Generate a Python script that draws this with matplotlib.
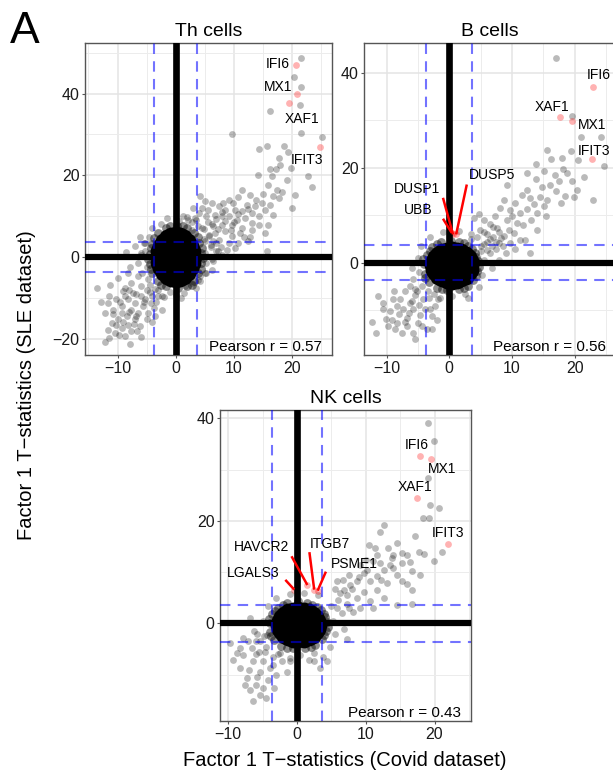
import matplotlib
matplotlib.use("Agg")
import matplotlib.pyplot as plt
from matplotlib.ticker import MultipleLocator

plt.rcParams["font.family"] = ["Liberation Sans", "DejaVu Sans"]

# ---- Th cells: (covid t, sle t) for genes outside the dense core ----
th_points = [
    (21.6, 48.8), (20.3, 44.0), (21.6, 41.6), (21.4, 37.3), (16.3, 35.7), (21.6, 30.4),
    (9.7, 30.2), (25.1, 29.3), (15.7, 27.3), (18.6, 27.3), (14.3, 26.4), (19.4, 25.7),
    (17.7, 24.2), (16.3, 21.6), (17.3, 21.6), (14.1, 20.0), (16.6, 19.9), (19.2, 18.9),
    (22.8, 19.9), (15.9, 17.7), (17.5, 16.5), (20.6, 15.3), (16.8, 14.9), (17.7, 14.4),
    (11.4, 16.5), (12.8, 15.3), (10.8, 14.7), (9.1, 14.0), (8.2, 13.2), (9.9, 13.2),
    (12.2, 12.8), (13.7, 12.4), (14.8, 13.2), (16.3, 12.8), (16.8, 10.4), (14.3, 10.0),
    (15.4, 11.6), (13.1, 10.8), (11.4, 11.2), (10.2, 11.6), (8.5, 11.6), (7.4, 12.4),
    (6.8, 10.4), (7.9, 10.0), (9.1, 10.0), (10.5, 9.1), (12.0, 9.6), (13.1, 8.3),
    (14.3, 7.9), (15.9, 7.9), (15.4, 5.9), (13.1, 6.7), (11.4, 7.1), (9.7, 7.9),
    (4.2, 14.9), (5.1, 13.6), (6.2, 13.2), (4.5, 12.0), (5.6, 11.6), (7.9, 7.9),
    (8.5, 6.3), (9.7, 5.1), (10.8, 3.4), (9.1, 3.4), (7.4, 4.2), (6.8, 5.9),
    (15.7, 1.4), (3.3, 9.6), (2.2, 9.1), (1.3, 10.0), (5.5, 8.5), (6.5, 7.5),
    (4.8, 6.8), (5.8, 5.2), (7.2, 6.8), (6.0, 3.0), (7.8, 2.5), (5.0, 3.8),
    (8.5, 8.8), (6.9, 9.2), (4.0, 10.8), (3.0, 11.9), (11.8, 5.0), (12.5, 3.8),
    (10.0, 8.5), (8.0, 0.5), (6.5, -1.0), (7.2, 1.5),
    (7.0, 3.5), (8.8, 1.8), (10.2, 2.2), (11.0, 5.8), (12.8, 5.0), (9.5, 6.5),
    (6.2, 8.0), (8.0, 11.0), (10.8, 10.5), (12.5, 11.8), (13.8, 14.0), (15.0, 15.5),
    (18.3, 16.0), (18.0, 22.5), (19.8, 21.8), (23.5, 17.2), (20.0, 12.0), (3.8, 7.5),
    (5.2, 10.0), (2.8, 6.5),
    (-13.6, -7.6), (-11.3, -6.8), (-9.9, -5.1), (-9.0, -8.4), (-10.2, -10.4), (-11.6, -11.3),
    (-10.7, -12.9), (-9.3, -12.1), (-8.2, -10.4), (-7.6, -12.9), (-8.4, -14.5), (-9.9, -15.3),
    (-11.0, -16.2), (-11.6, -17.8), (-10.5, -18.6), (-11.4, -19.8), (-9.3, -17.4), (-8.2, -16.6),
    (-7.0, -15.3), (-6.4, -13.7), (-7.0, -11.3), (-5.9, -9.6), (-5.6, -12.1), (-4.7, -13.7),
    (-5.0, -15.3), (-6.2, -17.0), (-7.6, -18.2), (-8.7, -19.4), (-4.3, -11.3), (-4.1, -9.6),
    (-3.3, -10.9), (-5.0, -8.0), (-7.6, -6.4), (-6.4, -4.7), (-8.2, -3.9), (-3.6, -14.5),
    (-2.4, -12.9), (-2.4, -9.6), (-9.3, -13.7), (-6.7, -18.2), (-12.2, -20.7), (-7.9, -21.4),
    (-10.2, -16.6), (-7.4, -8.8), (-8.7, -9.6), (-12.2, -13.7), (1.6, -7.2), (2.8, -6.4),
    (3.9, -5.6), (5.1, -3.9), (6.2, -3.1), (4.2, -4.7), (-7.0, 2.6), (-5.9, 1.0),
    (-5.3, 3.4), (-6.5, -1.5), (-7.8, -2.5), (-6.2, 4.8), (-8.5, 1.2),
    (-9.5, -11.0), (-8.0, -13.5), (-6.8, -14.5), (-5.5, -11.0), (-4.5, -8.5), (-6.0, -7.0),
    (-8.8, -7.5), (-10.8, -14.0), (-9.0, -16.0), (-7.2, -16.5), (-3.8, -12.5), (-5.2, -10.2),
    (-6.8, -9.0), (-3.0, -8.2), (-11.5, -9.5), (-12.8, -11.0), (-9.8, -19.0), (-4.0, -16.0),
    (-6.0, -19.5), (-8.0, -8.0),
    (-5.2, 1.5), (-5.0, -2.5), (-4.6, 4.8), (-4.8, -5.5), (5.0, 1.0), (5.3, -1.5),
    (4.8, 4.5), (5.2, -4.0), (4.5, 7.0), (2.8, 8.5), (0.5, 8.8), (-2.5, 8.0),
    (-4.0, 7.0), (-1.0, -8.5), (1.5, -8.8), (3.5, -7.5), (-3.5, -7.8), (6.0, 2.5),
    (6.2, -0.5), (-6.0, 0.5), (-5.8, -4.0), (5.8, 5.5), (-5.5, 3.5), (2.0, 9.8),
    (-3.0, -9.5), (6.5, 3.8), (7.0, 1.5), (3.5, 9.0), (1.0, -10.0), (-1.5, 9.5),
    (4.2, -6.0), (-4.5, -6.8), (0.0, -9.2), (-2.0, -9.8),
]
# genes packed into the solid black centre
th_core = [
    (0.0, 0.0), (1.5, 0.2), (-1.5, -0.2), (0.1, 2.9), (0.0, -2.9), (1.4, 2.6), (-1.4, 2.5),
    (1.5, -2.6), (-1.5, -2.5),
    (3.1, 0.0), (3.0, 1.4), (2.7, 2.8), (2.2, 4.0), (1.5, 4.8), (0.8, 5.4), (0.0, 5.6),
    (-0.8, 5.4), (-1.5, 4.8), (-2.2, 4.0), (-2.7, 2.8), (-3.0, 1.4), (-3.1, 0.0),
    (-3.0, -1.4), (-2.7, -2.8), (-2.2, -4.0), (-1.5, -4.8), (-0.8, -5.4), (0.0, -5.6),
    (0.8, -5.4), (1.5, -4.8), (2.2, -4.0), (2.7, -2.8), (3.0, -1.4),
]
th_fringe = [
    (4.4, 1.0), (4.3, -1.5), (4.1, 3.5), (3.9, -4.0), (3.2, 5.8), (2.0, 7.0), (0.3, 7.6),
    (-1.6, 7.1), (-3.1, 5.8), (-4.1, 3.3), (-4.5, 0.8), (-4.4, -1.6), (-4.0, -4.0),
    (-3.0, -6.0), (-1.6, -7.2), (0.4, -7.7), (2.0, -7.2), (3.2, -5.8), (4.7, -0.2),
    (-4.8, -0.5), (4.6, 2.2), (-4.3, 2.3), (2.8, -6.8), (-2.5, -6.9), (1.2, 7.6),
    (-0.9, 7.7), (3.8, 4.8), (-3.7, 4.7), (4.3, -2.9), (-4.3, -3.0),
]
th_genes = ["IFI6", "MX1", "XAF1", "IFIT3"]
th_gene_xy = [(20.7, 47.0), (20.9, 39.8), (19.5, 37.6), (24.9, 26.9)]
th_r = 0.57

# ---- B cells ----
b_points = [
    (17.0, 43.2), (19.6, 31.0), (15.6, 23.7), (19.4, 23.5), (24.2, 26.5), (21.0, 26.5),
    (16.3, 21.8), (20.6, 21.6), (13.9, 20.9), (18.2, 19.8), (24.7, 20.4), (15.1, 19.3),
    (12.4, 18.9), (13.8, 17.7), (18.8, 18.9), (19.6, 17.2), (17.5, 17.2), (16.1, 16.5),
    (12.4, 15.4), (9.2, 16.5), (11.6, 14.2), (12.9, 13.7), (14.5, 13.9), (15.6, 13.3),
    (18.5, 14.0), (19.9, 13.9), (23.0, 13.2), (17.8, 12.6), (10.5, 12.6), (9.7, 11.2),
    (8.1, 11.6), (8.7, 13.3), (12.4, 11.4), (11.3, 10.5), (14.0, 10.5), (15.1, 11.9),
    (7.3, 9.8), (9.2, 9.1), (10.8, 8.4), (12.1, 4.9), (7.6, 7.4), (6.5, 8.1),
    (5.5, 9.1), (4.7, 10.2), (3.9, 9.5), (4.9, 7.0), (6.0, 6.0), (8.7, 5.6),
    (9.7, 4.2), (10.3, 6.3), (11.3, 4.9), (7.9, 4.2), (12.9, 2.1), (14.0, 7.0),
    (15.5, 9.8), (20.4, 15.4), (17.0, 15.1), (5.5, 4.0), (6.5, 5.0), (7.5, 4.5),
    (6.0, 2.8), (8.5, 3.5), (9.0, 2.0), (7.0, 7.5), (8.0, 6.5),
    (4.5, 5.5), (6.8, 3.5), (8.2, 5.2), (9.5, 7.0), (10.0, 9.8), (11.8, 8.0),
    (13.0, 9.0), (13.5, 12.5), (14.8, 16.0), (16.8, 18.5), (18.0, 22.0), (21.5, 18.0),
    (10.5, 3.0), (5.0, 2.5), (3.5, 5.0),
    (-11.7, -14.7), (-11.4, -7.0), (-10.1, -11.9), (-9.5, -10.2), (-8.4, -9.1), (-7.9, -7.7),
    (-9.0, -7.7), (-7.4, -9.8), (-6.8, -11.6), (-8.4, -12.6), (-8.7, -14.0), (-6.8, -13.3),
    (-5.8, -14.7), (-5.5, -16.1), (-5.0, -12.6), (-4.7, -10.9), (-5.8, -9.8), (-6.3, -8.4),
    (-5.5, -6.7), (-4.2, -7.7), (-3.9, -9.8), (-2.8, -11.2), (-2.8, -14.0), (-3.6, -14.0),
    (-7.1, -6.0), (-10.6, -9.8), (-9.7, -13.3), (-3.4, -6.0), (-2.3, -9.1), (-1.8, -7.7),
    (-6.3, -4.9),
    (-10.5, -8.5), (-8.0, -10.8), (-7.0, -12.5), (-6.0, -8.0), (-4.8, -8.8), (-3.3, -7.5),
    (-9.2, -12.0), (-7.6, -14.8), (-4.3, -13.2), (-3.0, -9.8), (-5.2, -6.0), (-8.8, -6.0),
    (-2.0, -12.0), (-6.5, -10.5), (-12.3, -12.5),
    (-5.0, 1.0), (-4.8, -2.0), (-4.5, 3.5), (-4.3, -4.8), (5.5, 0.5), (5.3, -2.5),
    (5.0, 3.5), (4.8, -5.0), (3.5, 6.0), (1.5, 6.8), (-1.0, 6.5), (-3.0, 5.5),
    (-2.5, -6.5), (0.5, -7.0), (2.5, -6.5), (6.5, 2.0), (6.8, -1.0), (-6.0, -1.0),
    (-5.8, -3.5), (6.0, 4.5), (7.5, 3.0), (-5.5, -5.5), (3.0, -7.5), (-1.5, -7.5),
    (8.0, 0.5), (7.0, 5.5), (5.5, 6.5),
]
b_core = [
    (0.4, -0.5), (1.9, -0.5), (-1.1, -0.5), (0.4, 1.2), (0.4, -2.2), (1.6, 1.0), (-0.8, 1.0),
    (1.6, -2.0), (-0.8, -2.0),
    (3.5, -0.5), (3.4, 0.4), (3.1, 1.2), (2.6, 1.95), (1.95, 2.5), (1.2, 2.8), (0.4, 2.95),
    (-0.4, 2.8), (-1.15, 2.5), (-1.8, 1.95), (-2.3, 1.2), (-2.6, 0.4), (-2.7, -0.5),
    (-2.6, -1.4), (-2.3, -2.2), (-1.8, -2.95), (-1.15, -3.5), (-0.4, -3.8), (0.4, -3.95),
    (1.2, -3.8), (1.95, -3.5), (2.6, -2.95), (3.1, -2.2), (3.4, -1.4),
]
b_fringe = [
    (4.6, 0.3), (4.5, -1.8), (4.1, 2.1), (3.8, -3.6), (3.0, 3.6), (1.6, 4.4), (0.3, 4.7),
    (-1.3, 4.3), (-2.7, 3.3), (-3.6, 1.7), (-4.0, -0.3), (-3.9, -2.3), (-3.3, -4.0),
    (-2.0, -5.2), (-0.3, -5.8), (1.5, -5.6), (3.0, -4.8), (4.8, -0.8), (-4.2, 0.8),
    (4.3, 1.3), (2.4, -5.3), (-1.2, -5.6), (2.3, 4.2), (-2.0, 3.9), (3.6, 2.9),
    (-3.0, 2.6), (4.2, -2.8), (-3.8, -3.2),
]
b_genes = ["IFI6", "XAF1", "MX1", "IFIT3", "DUSP1", "UBB", "DUSP5"]
b_gene_xy = [(22.9, 37.1), (17.6, 30.7), (19.6, 29.8), (22.8, 21.8),
             (0.6, 6.0), (0.4, 6.3), (1.1, 6.0)]
b_r = 0.56

# ---- NK cells ----
nk_points = [
    (19.1, 39.0), (19.9, 35.5), (19.1, 28.3), (19.4, 23.1), (20.6, 22.5), (18.3, 20.6),
    (19.2, 20.6), (12.6, 19.2), (12.1, 17.9), (21.1, 13.9), (14.5, 15.6), (13.3, 14.7),
    (15.3, 13.7), (16.0, 13.4), (14.0, 13.4), (11.6, 13.4), (10.4, 15.3), (11.4, 14.7),
    (17.7, 14.0), (16.5, 11.9), (19.9, 12.1), (16.7, 10.3), (14.5, 9.5), (15.2, 8.2),
    (16.0, 7.7), (16.7, 6.6), (13.5, 11.4), (12.6, 10.5), (11.1, 12.1), (10.1, 12.4),
    (9.2, 11.4), (9.7, 9.8), (11.6, 9.2), (13.1, 7.9), (10.6, 8.2), (8.7, 8.2),
    (7.5, 9.5), (7.7, 7.5), (6.7, 8.5), (5.8, 8.2), (9.7, 6.2), (11.6, 6.6),
    (12.6, 4.9), (14.5, 3.6), (10.6, 4.3), (8.7, 4.9), (7.2, 5.6), (6.3, 5.9),
    (9.2, 3.0), (8.2, 2.3), (16.7, 3.8), (15.2, 11.8), (17.9, 9.5),
    (5.5, 6.8), (6.8, 6.5), (8.0, 6.8), (9.0, 9.0), (10.2, 10.5), (12.0, 11.8),
    (13.8, 12.8), (12.2, 8.5), (14.0, 10.8), (11.0, 3.0), (7.2, 3.8), (5.8, 3.0),
    (18.5, 13.5), (17.2, 17.0),
    (-6.4, -15.2), (-5.4, -13.9), (-5.9, -11.9), (-4.9, -12.6), (-6.8, -12.9), (-7.3, -10.6),
    (-8.3, -8.7), (-9.3, -7.1), (-7.8, -6.1), (-6.4, -7.4), (-5.4, -9.4), (-4.2, -11.0),
    (-4.0, -8.7), (-4.9, -7.4), (-3.0, -10.0), (-2.2, -7.4), (-3.4, -12.6), (-1.5, -9.4),
    (-1.0, -7.4), (2.4, -7.4), (3.3, -8.7), (4.3, -7.4), (-6.6, -4.8), (-5.4, -3.5),
    (-4.4, -2.2), (-7.8, -2.9), (-8.3, -4.8),
    (-7.0, -9.0), (-6.0, -6.0), (-4.6, -5.5), (-3.5, -8.0), (-8.8, -5.8), (-5.8, -10.5),
    (-4.5, -14.5), (-7.5, -12.0), (-2.8, -6.0), (-9.8, -3.8), (-7.2, -3.5), (-5.8, -2.0),
    (-5.0, 0.5), (-4.8, -2.5), (-4.2, 3.5), (-4.5, -4.5), (5.3, 0.5), (5.5, -2.0),
    (5.0, 3.5), (4.8, -4.5), (3.0, 5.5), (1.0, 6.0), (-1.0, 5.8), (-3.0, 5.0),
    (-2.5, -5.8), (0.5, -6.2), (2.5, -5.8), (6.5, 2.0), (6.8, -1.0), (-6.2, -1.5),
    (-6.0, -3.5), (6.0, 4.5), (7.5, 3.0), (-5.5, -5.5), (3.8, -6.5), (-1.0, -6.8),
    (-3.5, -6.5), (7.2, -3.0), (-6.8, 1.0), (1.8, -7.2),
]
nk_core = [
    (0.2, -0.25), (1.6, -0.25), (-1.2, -0.25), (0.2, 1.2), (0.2, -1.7), (1.4, 1.0),
    (-1.0, 1.0), (1.4, -1.5), (-1.0, -1.5),
    (3.15, -0.25), (3.05, 0.53), (2.75, 1.25), (2.3, 1.87), (1.7, 2.35), (0.96, 2.65),
    (0.2, 2.75), (-0.56, 2.65), (-1.3, 2.35), (-1.9, 1.87), (-2.35, 1.25), (-2.65, 0.53),
    (-2.75, -0.25), (-2.65, -1.03), (-2.35, -1.75), (-1.9, -2.37), (-1.3, -2.85),
    (-0.56, -3.15), (0.2, -3.25), (0.96, -3.15), (1.7, -2.85), (2.3, -2.37), (2.75, -1.75),
    (3.05, -1.03),
]
nk_fringe = [
    (4.3, 0.3), (4.2, -1.5), (3.9, 1.9), (3.6, -3.0), (2.9, 3.2), (1.5, 4.0), (0.1, 4.3),
    (-1.4, 4.0), (-2.7, 3.1), (-3.6, 1.8), (-4.0, 0.0), (-3.9, -1.7), (-3.4, -3.2),
    (-2.3, -4.3), (-0.6, -4.8), (1.1, -4.8), (2.6, -4.1), (4.5, -0.6), (-4.1, 0.9),
    (4.1, 1.2), (2.0, -4.6), (-1.5, -4.7), (2.2, 3.7), (-2.1, 3.6), (3.5, 2.6),
    (-3.2, 2.5), (3.9, -2.3), (-3.8, -2.5),
]
nk_genes = ["IFI6", "MX1", "XAF1", "IFIT3", "HAVCR2", "ITGB7", "LGALS3", "PSME1"]
nk_gene_xy = [(17.9, 32.7), (19.5, 32.0), (17.5, 24.5), (22.0, 15.5),
              (1.5, 7.5), (2.5, 6.6), (-0.4, 6.6), (3.0, 6.4)]
nk_r = 0.43

# ---- layout (pixels of a 613x771 canvas) ----
layout = {
    "Th cells": dict(box=(85, 43, 332, 355), xlim=(-15.6, 26.9), ylim=(-24.0, 52.4),
                     thr=3.7,
                     text={"IFI6": (17.5, 47.3), "MX1": (17.7, 41.6),
                           "XAF1": (21.7, 33.8), "IFIT3": (22.6, 23.8)},
                     seg={}),
    "B cells": dict(box=(364, 43, 616, 355), xlim=(-13.6, 26.6), ylim=(-19.4, 46.3),
                    thr=3.7,
                    text={"IFI6": (23.9, 39.6), "XAF1": (16.4, 32.8), "MX1": (22.8, 29.0),
                          "IFIT3": (23.1, 23.6), "DUSP1": (-5.2, 15.6), "UBB": (-5.0, 11.2),
                          "DUSP5": (6.8, 18.5)},
                    seg={"DUSP1": (-1.0, 13.7), "UBB": (-1.0, 9.3), "DUSP5": (2.8, 16.5)}),
    "NK cells": dict(box=(220, 410, 471, 721), xlim=(-11.2, 25.3), ylim=(-19.0, 41.6),
                     thr=3.7,
                     text={"IFI6": (17.4, 34.8), "MX1": (21.1, 30.1), "XAF1": (17.2, 26.5),
                           "IFIT3": (21.9, 17.6), "HAVCR2": (-5.1, 15.0), "ITGB7": (4.8, 15.5),
                           "LGALS3": (-6.4, 9.8), "PSME1": (8.4, 11.6)},
                     seg={"HAVCR2": (-0.8, 13.1), "ITGB7": (1.8, 13.9),
                          "LGALS3": (-1.7, 8.5), "PSME1": (4.2, 10.1)}),
}

W, H = 613, 771
fig = plt.figure(figsize=(W / 100, H / 100), dpi=100)


def draw_panel(title, points, core, fringe, genes, gene_xy, r):
    cfg = layout[title]
    x0, y0, x1, y1 = cfg["box"]
    ax = fig.add_axes([x0 / W, 1 - y1 / H, (x1 - x0) / W, (y1 - y0) / H])
    ax.set_axisbelow(True)

    px, py = zip(*points)
    ax.scatter(px, py, s=24, color="black", alpha=0.27, linewidths=0, zorder=2)
    fx, fy = zip(*fringe)
    ax.scatter(fx, fy, s=40, color="black", alpha=0.45, linewidths=0, zorder=2)
    cx, cy = zip(*core)
    ax.scatter(cx, cy, s=130, color="black", alpha=1.0, linewidths=0, zorder=2)
    gx, gy = zip(*gene_xy)
    ax.scatter(gx, gy, s=24, color="red", alpha=0.3, linewidths=0, zorder=2)

    ax.axvline(0, color="black", lw=4.8, zorder=3)
    ax.axhline(0, color="black", lw=4.5, zorder=3)
    thr = cfg["thr"]
    for v in (-thr, thr):
        ax.axvline(v, color="blue", alpha=0.55, lw=1.5, ls=(0, (5, 3.5)), zorder=4)
        ax.axhline(v, color="blue", alpha=0.55, lw=1.5, ls=(0, (5, 3.5)), zorder=4)

    for name, (gxx, gyy) in zip(genes, gene_xy):
        tx, ty = cfg["text"][name]
        if name in cfg["seg"]:
            sx, sy = cfg["seg"][name]
            ax.plot([sx, gxx], [sy, gyy], color="red", lw=1.8, zorder=5,
                    solid_capstyle="butt")
        ax.text(tx, ty, name, fontsize=10, ha="center", va="center", zorder=6)

    ax.text(0.96, 0.014, f"Pearson r = {r:.2f}", transform=ax.transAxes,
            ha="right", va="baseline", fontsize=11, zorder=6)

    ax.set_xlim(*cfg["xlim"])
    ax.set_ylim(*cfg["ylim"])
    ax.xaxis.set_major_locator(MultipleLocator(10))
    ax.xaxis.set_minor_locator(MultipleLocator(5))
    ax.yaxis.set_major_locator(MultipleLocator(20))
    ax.yaxis.set_minor_locator(MultipleLocator(10))
    ax.grid(which="major", color="#e4e4e4", lw=1.1)
    ax.grid(which="minor", color="#ececec", lw=0.7)
    ax.tick_params(which="major", length=2.5, width=0.8, color="#555555",
                   labelsize=11.5, labelcolor="#1a1a1a", pad=1.5)
    ax.tick_params(which="minor", length=0)
    for sp in ax.spines.values():
        sp.set_color("#555555")
        sp.set_linewidth(1.0)
    ax.set_title(title, fontsize=14, pad=5)
    return ax


draw_panel("Th cells", th_points, th_core, th_fringe, th_genes, th_gene_xy, th_r)
draw_panel("B cells", b_points, b_core, b_fringe, b_genes, b_gene_xy, b_r)
draw_panel("NK cells", nk_points, nk_core, nk_fringe, nk_genes, nk_gene_xy, nk_r)

fig.text(0.016, 1 - 43 / H, "A", fontsize=32, va="baseline", ha="left")
fig.text(27 / W, 1 - 385 / H, "Factor 1 T\u2212statistics (SLE dataset)",
         rotation=90, fontsize=14.5, ha="center", va="center")
fig.text(345 / W, 1 - 761 / H, "Factor 1 T\u2212statistics (Covid dataset)",
         fontsize=14.5, ha="center", va="center")

fig.savefig("out.png", dpi=100)
